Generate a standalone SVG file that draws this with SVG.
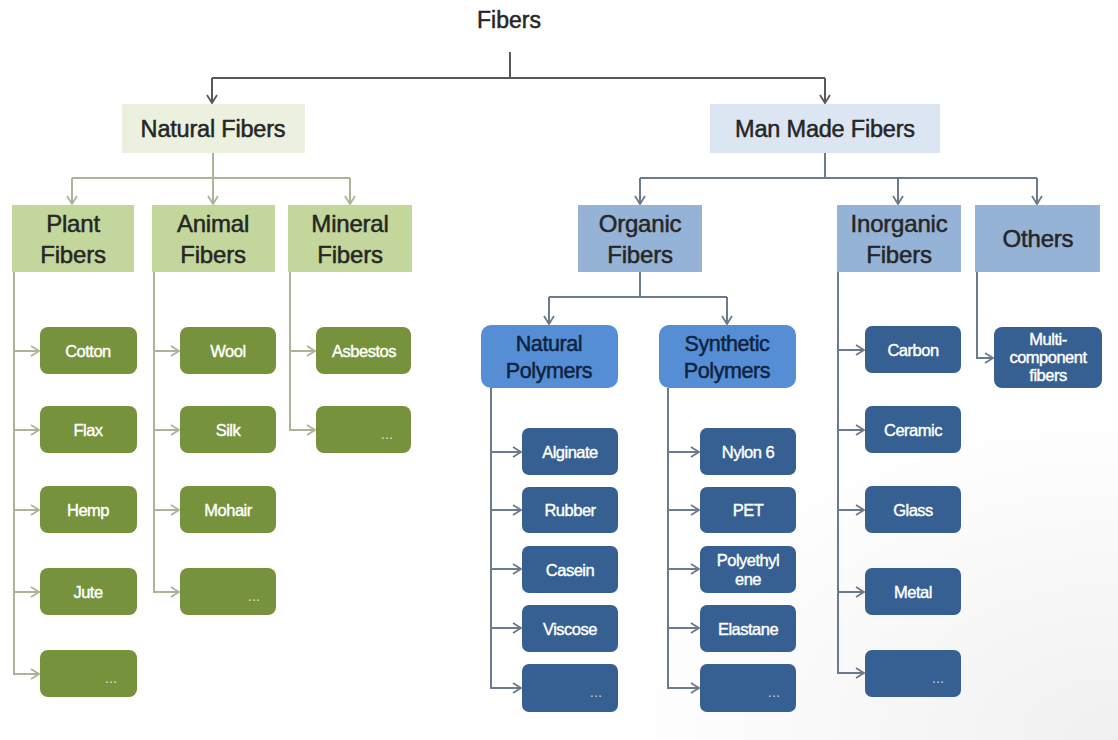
<svg xmlns="http://www.w3.org/2000/svg" width="1118" height="740" viewBox="0 0 1118 740">
  <defs>
    <marker id="arrGray" markerWidth="12" markerHeight="12" refX="10" refY="6" orient="auto" markerUnits="userSpaceOnUse">
      <path d="M2,1 L10,6 L2,11" fill="none" stroke="#595959" stroke-width="1.8"/>
    </marker>
    <marker id="arrGreen" markerWidth="12" markerHeight="12" refX="10" refY="6" orient="auto" markerUnits="userSpaceOnUse">
      <path d="M2,1 L10,6 L2,11" fill="none" stroke="#a9b596" stroke-width="1.8"/>
    </marker>
    <marker id="arrBlue" markerWidth="12" markerHeight="12" refX="10" refY="6" orient="auto" markerUnits="userSpaceOnUse">
      <path d="M2,1 L10,6 L2,11" fill="none" stroke="#6b7a8c" stroke-width="1.8"/>
    </marker>
    <radialGradient id="bg" cx="1" cy="1" r="0.45">
      <stop offset="0" stop-color="#f0f0f0"/>
      <stop offset="1" stop-color="#ffffff"/>
    </radialGradient>
  </defs>
  <style>
    text { font-family: "Liberation Sans", Arial, sans-serif; text-anchor: middle; font-weight: normal; stroke-linejoin: round; }
    .title { font-size: 23px; fill: #262626; stroke: #262626; stroke-width: 0.5px; }
    .lvl1 { font-size: 23.5px; fill: #262626; stroke: #262626; stroke-width: 0.5px; letter-spacing: -0.2px; }
    .lvl2 { font-size: 24px; fill: #262626; stroke: #262626; stroke-width: 0.5px; letter-spacing: -0.2px; }
    .poly { font-size: 21.5px; fill: #0f2440; stroke: #0f2440; stroke-width: 0.5px; letter-spacing: -0.4px; }
    .leaf { font-size: 16.5px; fill: #ffffff; stroke: #ffffff; stroke-width: 0.4px; letter-spacing: -0.5px; }
    .dots { font-size: 15px; fill: #d9e2c8; }
    .dotsB { font-size: 15px; fill: #b9c8dc; }
    .natTop { fill: #ebf1de; }
    .manTop { fill: #dce6f2; }
    .greenHead { fill: #c3d69b; }
    .blueHead { fill: #95b3d7; }
    .polyBox { fill: #558ed5; }
    .greenLeaf { fill: #76923c; }
    .blueLeaf { fill: #376092; }
    .cGray { fill: none; stroke: #595959; stroke-width: 2; }
    .cGreen { fill: none; stroke: #a9b596; stroke-width: 2; }
    .cBlue { fill: none; stroke: #6b7a8c; stroke-width: 2; }
  </style>

  <rect x="0" y="0" width="1118" height="740" fill="url(#bg)"/>

  <!-- connectors -->
  <g id="connectors">
    <!-- root split -->
    <path class="cGray" d="M510,52 V78"/>
    <path class="cGray" d="M212,78 H825"/>
    <path class="cGray" d="M212,78 V103" marker-end="url(#arrGray)"/>
    <path class="cGray" d="M825,78 V103" marker-end="url(#arrGray)"/>

    <!-- natural fibers split -->
    <path class="cGreen" d="M213,153 V178"/>
    <path class="cGreen" d="M72,178 H350"/>
    <path class="cGreen" d="M72,178 V204" marker-end="url(#arrGreen)"/>
    <path class="cGreen" d="M213,178 V204" marker-end="url(#arrGreen)"/>
    <path class="cGreen" d="M350,178 V204" marker-end="url(#arrGreen)"/>

    <!-- plant fibers -->
    <path class="cGreen" d="M14,272 V674 H39" marker-end="url(#arrGreen)"/>
    <path class="cGreen" d="M14,351 H39" marker-end="url(#arrGreen)"/>
    <path class="cGreen" d="M14,430 H39" marker-end="url(#arrGreen)"/>
    <path class="cGreen" d="M14,510 H39" marker-end="url(#arrGreen)"/>
    <path class="cGreen" d="M14,592 H39" marker-end="url(#arrGreen)"/>

    <!-- animal fibers -->
    <path class="cGreen" d="M154,272 V592 H179" marker-end="url(#arrGreen)"/>
    <path class="cGreen" d="M154,351 H179" marker-end="url(#arrGreen)"/>
    <path class="cGreen" d="M154,430 H179" marker-end="url(#arrGreen)"/>
    <path class="cGreen" d="M154,510 H179" marker-end="url(#arrGreen)"/>

    <!-- mineral fibers -->
    <path class="cGreen" d="M290,272 V430 H315" marker-end="url(#arrGreen)"/>
    <path class="cGreen" d="M290,351 H315" marker-end="url(#arrGreen)"/>

    <!-- man made split -->
    <path class="cBlue" d="M825,153 V178"/>
    <path class="cBlue" d="M640,178 H1037"/>
    <path class="cBlue" d="M640,178 V204" marker-end="url(#arrBlue)"/>
    <path class="cBlue" d="M898,178 V204" marker-end="url(#arrBlue)"/>
    <path class="cBlue" d="M1037,178 V204" marker-end="url(#arrBlue)"/>

    <!-- organic split -->
    <path class="cBlue" d="M640,272 V297"/>
    <path class="cBlue" d="M549,297 H727"/>
    <path class="cBlue" d="M549,297 V324" marker-end="url(#arrBlue)"/>
    <path class="cBlue" d="M727,297 V324" marker-end="url(#arrBlue)"/>

    <!-- natural polymers -->
    <path class="cBlue" d="M491,388 V688 H521" marker-end="url(#arrBlue)"/>
    <path class="cBlue" d="M491,452 H521" marker-end="url(#arrBlue)"/>
    <path class="cBlue" d="M491,510 H521" marker-end="url(#arrBlue)"/>
    <path class="cBlue" d="M491,569 H521" marker-end="url(#arrBlue)"/>
    <path class="cBlue" d="M491,628 H521" marker-end="url(#arrBlue)"/>

    <!-- synthetic polymers -->
    <path class="cBlue" d="M668,388 V688 H699" marker-end="url(#arrBlue)"/>
    <path class="cBlue" d="M668,452 H699" marker-end="url(#arrBlue)"/>
    <path class="cBlue" d="M668,510 H699" marker-end="url(#arrBlue)"/>
    <path class="cBlue" d="M668,569 H699" marker-end="url(#arrBlue)"/>
    <path class="cBlue" d="M668,628 H699" marker-end="url(#arrBlue)"/>

    <!-- inorganic fibers -->
    <path class="cBlue" d="M838,272 V673 H864" marker-end="url(#arrBlue)"/>
    <path class="cBlue" d="M838,350 H864" marker-end="url(#arrBlue)"/>
    <path class="cBlue" d="M838,430 H864" marker-end="url(#arrBlue)"/>
    <path class="cBlue" d="M838,510 H864" marker-end="url(#arrBlue)"/>
    <path class="cBlue" d="M838,592 H864" marker-end="url(#arrBlue)"/>

    <!-- others -->
    <path class="cBlue" d="M977,272 V358 H993" marker-end="url(#arrBlue)"/>
  </g>

  <!-- root -->
  <g id="fibers">
    <text class="title" x="509" y="28">Fibers</text>
  </g>

  <!-- natural fibers branch -->
  <g id="natural-fibers">
    <rect class="natTop" x="122" y="104" width="183" height="49"/>
    <text class="lvl1" x="213" y="137">Natural Fibers</text>
  </g>
  <g id="plant-fibers">
    <rect class="greenHead" x="12" y="205" width="122" height="67"/>
    <text class="lvl2" x="73" y="232">Plant</text>
    <text class="lvl2" x="73" y="263">Fibers</text>
  </g>
  <g id="animal-fibers">
    <rect class="greenHead" x="152" y="205" width="123" height="67"/>
    <text class="lvl2" x="213" y="232">Animal</text>
    <text class="lvl2" x="213" y="263">Fibers</text>
  </g>
  <g id="mineral-fibers">
    <rect class="greenHead" x="288" y="205" width="124" height="67"/>
    <text class="lvl2" x="350" y="232">Mineral</text>
    <text class="lvl2" x="350" y="263">Fibers</text>
  </g>

  <g id="cotton"><rect class="greenLeaf" x="40" y="327" width="97" height="47" rx="8"/><text class="leaf" x="88" y="357">Cotton</text></g>
  <g id="flax"><rect class="greenLeaf" x="40" y="406" width="97" height="47" rx="8"/><text class="leaf" x="88" y="436">Flax</text></g>
  <g id="hemp"><rect class="greenLeaf" x="40" y="486" width="97" height="47" rx="8"/><text class="leaf" x="88" y="516">Hemp</text></g>
  <g id="jute"><rect class="greenLeaf" x="40" y="568" width="97" height="47" rx="8"/><text class="leaf" x="88" y="598">Jute</text></g>
  <g id="plant-more"><rect class="greenLeaf" x="40" y="650" width="97" height="47" rx="8"/><text class="dots" x="111" y="683">...</text></g>

  <g id="wool"><rect class="greenLeaf" x="180" y="327" width="96" height="47" rx="8"/><text class="leaf" x="228" y="357">Wool</text></g>
  <g id="silk"><rect class="greenLeaf" x="180" y="406" width="96" height="47" rx="8"/><text class="leaf" x="228" y="436">Silk</text></g>
  <g id="mohair"><rect class="greenLeaf" x="180" y="486" width="96" height="47" rx="8"/><text class="leaf" x="228" y="516">Mohair</text></g>
  <g id="animal-more"><rect class="greenLeaf" x="180" y="568" width="96" height="47" rx="8"/><text class="dots" x="254" y="601">...</text></g>

  <g id="asbestos"><rect class="greenLeaf" x="316" y="327" width="95" height="47" rx="8"/><text class="leaf" x="364" y="357">Asbestos</text></g>
  <g id="mineral-more"><rect class="greenLeaf" x="316" y="406" width="95" height="47" rx="8"/><text class="dots" x="387" y="439">...</text></g>

  <!-- man made fibers branch -->
  <g id="man-made-fibers">
    <rect class="manTop" x="710" y="104" width="230" height="49"/>
    <text class="lvl1" x="825" y="137">Man Made Fibers</text>
  </g>
  <g id="organic-fibers">
    <rect class="blueHead" x="578" y="205" width="124" height="67"/>
    <text class="lvl2" x="640" y="232">Organic</text>
    <text class="lvl2" x="640" y="263">Fibers</text>
  </g>
  <g id="inorganic-fibers">
    <rect class="blueHead" x="837" y="205" width="124" height="67"/>
    <text class="lvl2" x="899" y="232">Inorganic</text>
    <text class="lvl2" x="899" y="263">Fibers</text>
  </g>
  <g id="others">
    <rect class="blueHead" x="975" y="205" width="125" height="67"/>
    <text class="lvl2" x="1038" y="247">Others</text>
  </g>

  <g id="natural-polymers">
    <rect class="polyBox" x="481" y="325" width="137" height="63" rx="10"/>
    <text class="poly" x="549" y="351">Natural</text>
    <text class="poly" x="549" y="378">Polymers</text>
  </g>
  <g id="synthetic-polymers">
    <rect class="polyBox" x="659" y="325" width="137" height="63" rx="10"/>
    <text class="poly" x="727" y="351">Synthetic</text>
    <text class="poly" x="727" y="378">Polymers</text>
  </g>

  <g id="alginate"><rect class="blueLeaf" x="522" y="428" width="96" height="47" rx="7"/><text class="leaf" x="570" y="458">Alginate</text></g>
  <g id="rubber"><rect class="blueLeaf" x="522" y="487" width="96" height="46" rx="7"/><text class="leaf" x="570" y="516">Rubber</text></g>
  <g id="casein"><rect class="blueLeaf" x="522" y="546" width="96" height="47" rx="7"/><text class="leaf" x="570" y="576">Casein</text></g>
  <g id="viscose"><rect class="blueLeaf" x="522" y="605" width="96" height="47" rx="7"/><text class="leaf" x="570" y="635">Viscose</text></g>
  <g id="natpoly-more"><rect class="blueLeaf" x="522" y="664" width="96" height="48" rx="7"/><text class="dotsB" x="596" y="697">...</text></g>

  <g id="nylon6"><rect class="blueLeaf" x="700" y="428" width="96" height="47" rx="7"/><text class="leaf" x="748" y="458">Nylon 6</text></g>
  <g id="pet"><rect class="blueLeaf" x="700" y="487" width="96" height="46" rx="7"/><text class="leaf" x="748" y="516">PET</text></g>
  <g id="polyethylene"><rect class="blueLeaf" x="700" y="546" width="96" height="47" rx="7"/><text class="leaf" x="748" y="566">Polyethyl</text><text class="leaf" x="748" y="585">ene</text></g>
  <g id="elastane"><rect class="blueLeaf" x="700" y="605" width="96" height="47" rx="7"/><text class="leaf" x="748" y="635">Elastane</text></g>
  <g id="synpoly-more"><rect class="blueLeaf" x="700" y="664" width="96" height="48" rx="7"/><text class="dotsB" x="774" y="697">...</text></g>

  <g id="carbon"><rect class="blueLeaf" x="865" y="326" width="96" height="47" rx="7"/><text class="leaf" x="913" y="356">Carbon</text></g>
  <g id="ceramic"><rect class="blueLeaf" x="865" y="406" width="96" height="47" rx="7"/><text class="leaf" x="913" y="436">Ceramic</text></g>
  <g id="glass"><rect class="blueLeaf" x="865" y="486" width="96" height="47" rx="7"/><text class="leaf" x="913" y="516">Glass</text></g>
  <g id="metal"><rect class="blueLeaf" x="865" y="568" width="96" height="47" rx="7"/><text class="leaf" x="913" y="598">Metal</text></g>
  <g id="inorganic-more"><rect class="blueLeaf" x="865" y="650" width="96" height="47" rx="7"/><text class="dotsB" x="938" y="683">...</text></g>

  <g id="multi-component">
    <rect class="blueLeaf" x="994" y="327" width="108" height="61" rx="8"/>
    <text class="leaf" x="1048" y="345">Multi-</text>
    <text class="leaf" x="1048" y="363">component</text>
    <text class="leaf" x="1048" y="381">fibers</text>
  </g>
</svg>
